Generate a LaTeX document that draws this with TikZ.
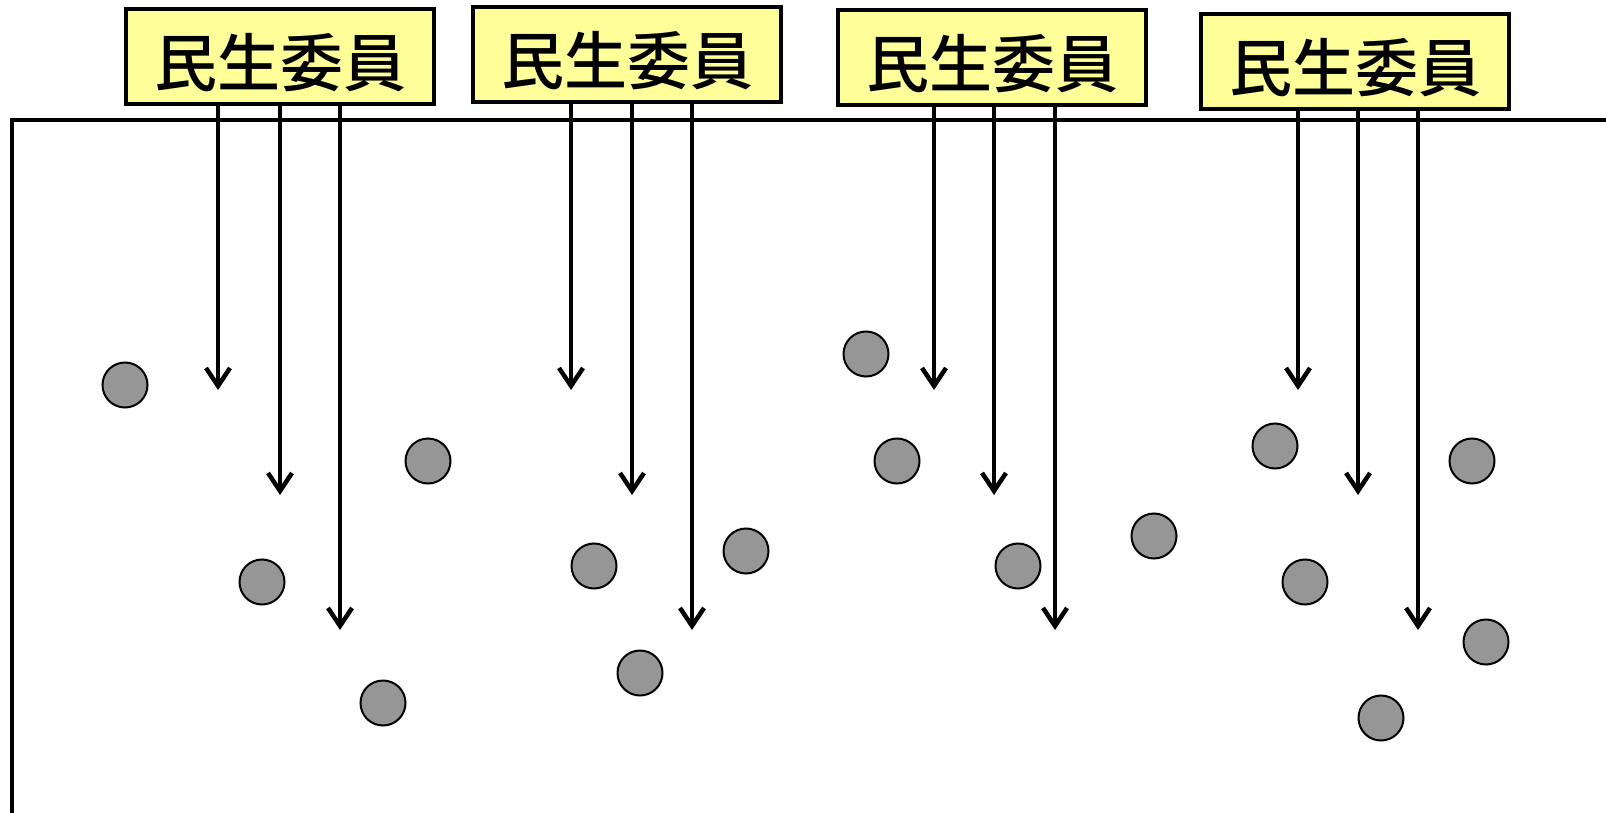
\documentclass[tikz,border=0pt]{standalone}
\usepackage{fontspec}
\newfontfamily\jp{Noto Sans CJK JP Medium}
\usetikzlibrary{arrows.meta}
\definecolor{boxyellow}{HTML}{FFFF99}
\definecolor{dotgray}{HTML}{969696}
\begin{document}
\begin{tikzpicture}[x=1pt,y=-1pt,
  iinbox/.style={draw=black,line width=4pt,fill=boxyellow,minimum width=308pt,minimum height=95pt,inner sep=0pt,font=\jp\fontsize{63pt}{63pt}\selectfont,text depth=0pt},
  arr/.style={line width=4.5pt,-{Straight Barb[length=18pt,width=24pt,line width=4.5pt]}},
  dot/.style={circle,draw=black,line width=2pt,fill=dotgray,minimum size=45pt,inner sep=0pt},
  frame/.style={line width=4.5pt}]
\useasboundingbox (0,0) rectangle (1606,813);
% frame
\coordinate (fr) at (1606,120);
\coordinate (fc) at (12,120);
\coordinate (fb) at (12,813);
\draw[frame] (fr) -- (fc) -- (fb);
% boxes
\node[iinbox] (b1) at (280,57) {\raisebox{-6pt}{民生委員}};
\node[iinbox] (b2) at (627,55) {\raisebox{-6pt}{民生委員}};
\node[iinbox] (b3) at (992,58) {\raisebox{-6pt}{民生委員}};
\node[iinbox] (b4) at (1355,62) {\raisebox{-6pt}{民生委員}};
% arrow tips
\coordinate (t11) at (218,390);
\coordinate (t12) at (280,495);
\coordinate (t13) at (340,630);
\coordinate (t21) at (571,390);
\coordinate (t22) at (632,495);
\coordinate (t23) at (692,630);
\coordinate (t31) at (934,390);
\coordinate (t32) at (994,495);
\coordinate (t33) at (1055,630);
\coordinate (t41) at (1298,390);
\coordinate (t42) at (1358,495);
\coordinate (t43) at (1418,630);
\foreach \b in {1,2,3,4}{
  \foreach \i in {1,2,3}{
    \draw[arr] (b\b.south -| t\b\i) -- (t\b\i);
  }
}
% dots
\node[dot] (d1) at (125,385) {};
\node[dot] (d2) at (428,461) {};
\node[dot] (d3) at (262,582) {};
\node[dot] (d4) at (383,703) {};
\node[dot] (d5) at (594,566) {};
\node[dot] (d6) at (746,551) {};
\node[dot] (d7) at (640,673) {};
\node[dot] (d8) at (866,354) {};
\node[dot] (d9) at (897,461) {};
\node[dot] (d10) at (1018,566) {};
\node[dot] (d11) at (1154,536) {};
\node[dot] (d12) at (1275,446) {};
\node[dot] (d13) at (1472,461) {};
\node[dot] (d14) at (1305,582) {};
\node[dot] (d15) at (1486,642) {};
\node[dot] (d16) at (1381,718) {};
\end{tikzpicture}
\end{document}
